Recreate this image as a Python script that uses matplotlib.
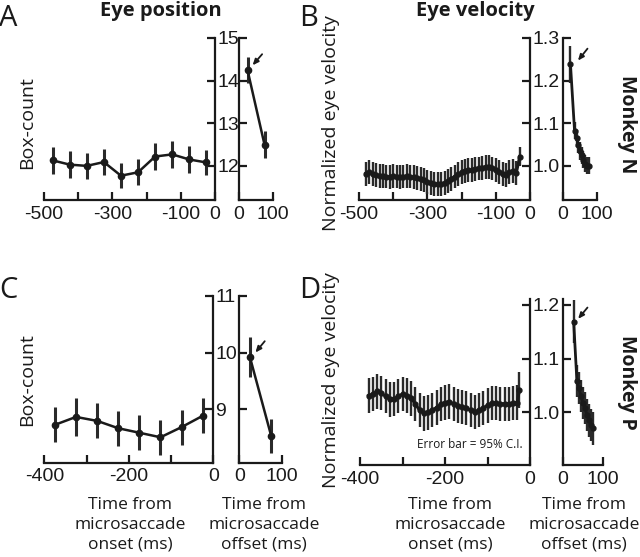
import matplotlib
matplotlib.use("Agg")
import matplotlib.pyplot as plt

# ---------------- data ----------------
# Panel A (Monkey N, eye position, box-count)
a_pre_t = [-475, -425, -375, -325, -275, -225, -175, -125, -75, -25]
a_pre_v = [12.13, 12.03, 12.00, 12.09, 11.77, 11.85, 12.22, 12.27, 12.15, 12.08]
a_pre_e = [0.31, 0.31, 0.31, 0.30, 0.30, 0.30, 0.31, 0.31, 0.31, 0.30]
a_post_t = [25, 75]
a_post_v = [14.25, 12.50]
a_post_e = [0.31, 0.31]

# Panel B (Monkey N, normalized eye velocity)
b_pre_t = [-480, -470, -460, -450, -440, -430, -420, -410, -400, -390,
           -380, -370, -360, -350, -340, -330, -320, -310, -300, -290,
           -280, -270, -260, -250, -240, -230, -220, -210, -200, -190,
           -180, -170, -160, -150, -140, -130, -120, -110, -100, -90,
           -80, -70, -60, -50, -40, -30]
b_pre_v = [0.982, 0.985, 0.980, 0.978, 0.976, 0.977, 0.975, 0.974, 0.976, 0.975,
           0.974, 0.975, 0.976, 0.975, 0.973, 0.972, 0.970, 0.967, 0.963, 0.960,
           0.958, 0.957, 0.958, 0.960, 0.964, 0.970, 0.975, 0.980, 0.985, 0.988,
           0.990, 0.990, 0.992, 0.994, 0.996, 0.998, 0.997, 0.994, 0.990, 0.985,
           0.980, 0.978, 0.986, 0.988, 0.984, 1.022]
b_pre_e = [0.028] * 45 + [0.023]
b_post_t = [22, 34, 40, 45, 50, 55, 60, 65, 70, 75]
b_post_v = [1.238, 1.082, 1.065, 1.050, 1.035, 1.025, 1.015, 1.005, 1.000, 1.000]
b_post_e = [0.043, 0.020, 0.020, 0.020, 0.020, 0.020, 0.020, 0.020, 0.020, 0.020]

# Panel C (Monkey P, eye position, box-count)
c_pre_t = [-375, -325, -275, -225, -175, -125, -75, -25]
c_pre_v = [8.72, 8.86, 8.79, 8.66, 8.58, 8.50, 8.68, 8.88]
c_pre_e = [0.31, 0.34, 0.31, 0.31, 0.31, 0.31, 0.31, 0.31]
c_post_t = [25, 75]
c_post_v = [9.92, 8.53]
c_post_e = [0.35, 0.30]

# Panel D (Monkey P, normalized eye velocity)
d_pre_t = [-380, -370, -360, -350, -340, -330, -320, -310, -300, -290,
           -280, -270, -260, -250, -240, -230, -220, -210, -200, -190,
           -180, -170, -160, -150, -140, -130, -120, -110, -100, -90,
           -80, -70, -60, -50, -40, -30, -25]
d_pre_v = [1.031, 1.034, 1.039, 1.036, 1.030, 1.024, 1.025, 1.030, 1.034, 1.031,
           1.026, 1.016, 1.004, 0.998, 1.000, 1.004, 1.009, 1.015, 1.018, 1.020,
           1.016, 1.012, 1.010, 1.008, 1.004, 1.001, 1.004, 1.008, 1.013, 1.017,
           1.017, 1.016, 1.016, 1.016, 1.017, 1.018, 1.042]
d_pre_e = [0.032] * 36 + [0.034]
d_post_t = [27, 35, 40, 45, 50, 55, 60, 65, 70, 75]
d_post_v = [1.169, 1.058, 1.045, 1.030, 1.018, 1.008, 0.995, 0.985, 0.976, 0.970]
d_post_e = [0.040, 0.030, 0.030, 0.030, 0.030, 0.030, 0.030, 0.030, 0.030, 0.030]

# ---------------- style ----------------
TICKFONT = "Liberation Sans"
LABFONT = "Open Sans"
INK = "#1a1a1a"
W, H = 640, 557

fig = plt.figure(figsize=(W / 100, H / 100), dpi=100)


def box(x0, x1, ytop, ybot):
    return [x0 / W, 1 - ybot / H, (x1 - x0) / W, (ybot - ytop) / H]


def style_left(ax, xlim, xticks, xlabels, ylim, yticks, ylabels):
    ax.set_xlim(*xlim)
    ax.set_ylim(*ylim)
    for s in ("left", "top"):
        ax.spines[s].set_visible(False)
    for s in ("right", "bottom"):
        ax.spines[s].set_linewidth(1.6)
        ax.spines[s].set_color(INK)
    ax.yaxis.tick_right()
    ax.set_xticks(xticks)
    ax.set_xticklabels(xlabels)
    ax.set_yticks(yticks)
    ax.set_yticklabels(ylabels)
    ax.tick_params(direction="in", length=6, width=1.6, color=INK,
                   labelsize=14, pad=1.5, labelcolor=INK)
    ax.tick_params(axis="x", pad=4)
    for lab in ax.get_xticklabels() + ax.get_yticklabels():
        lab.set_family(TICKFONT)
    ax.patch.set_alpha(0)


def style_right(ax, xlim, ylim, yticks):
    ax.set_xlim(*xlim)
    ax.set_ylim(*ylim)
    for s in ("right", "top"):
        ax.spines[s].set_visible(False)
    for s in ("left", "bottom"):
        ax.spines[s].set_linewidth(1.6)
        ax.spines[s].set_color(INK)
    ax.set_xticks([0, 100])
    ax.set_xticklabels(["0", "100"])
    ax.set_yticks(yticks)
    ax.set_yticklabels([])
    ax.tick_params(direction="in", length=6, width=1.6, color=INK,
                   labelsize=14, pad=1.5, labelcolor=INK)
    ax.tick_params(axis="x", pad=4)
    for lab in ax.get_xticklabels():
        lab.set_family(TICKFONT)
    ax.patch.set_alpha(0)


def plot_series(ax, t, v, e, ms=4.5, elw=2.2, lw=1.8):
    ax.errorbar(t, v, yerr=e, color=INK, ecolor="#2a2a2a", elinewidth=elw,
                capsize=0, lw=lw, marker="o", ms=ms, mfc=INK, mec=INK,
                clip_on=False)


def arrow(ax, xy_text, xy_head):
    ax.annotate("", xy=xy_head, xytext=xy_text,
                arrowprops=dict(arrowstyle="-|>,head_length=0.35,head_width=0.15",
                                color=INK, lw=1.3, shrinkA=0, shrinkB=0),
                annotation_clip=False)


# ---- Panel A ----
axA = fig.add_axes(box(44, 215, 38, 200))
axA2 = fig.add_axes(box(239, 273, 38, 200))
style_left(axA, (-500, 0), [-500, -400, -300, -200, -100, 0],
           ["-500", "", "-300", "", "-100", "0"], (11.2, 15),
           [12, 13, 14, 15], ["12", "13", "14", "15"])
style_right(axA2, (0, 100), (11.2, 15), [12, 13, 14, 15])
plot_series(axA, a_pre_t, a_pre_v, a_pre_e)
plot_series(axA2, a_post_t, a_post_v, a_post_e)
arrow(axA2, (68, 14.62), (40, 14.36))

# ---- Panel B ----
axB = fig.add_axes(box(359, 530, 38, 200))
axB2 = fig.add_axes(box(563, 597, 38, 200))
style_left(axB, (-500, 0), [-500, -400, -300, -200, -100, 0],
           ["-500", "", "-300", "", "-100", "0"], (0.92, 1.3),
           [1.0, 1.1, 1.2, 1.3], ["1.0", "1.1", "1.2", "1.3"])
style_right(axB2, (0, 100), (0.92, 1.3), [1.0, 1.1, 1.2, 1.3])
plot_series(axB, b_pre_t, b_pre_v, b_pre_e, ms=3.5, elw=1.7, lw=2.2)
plot_series(axB2, b_post_t, b_post_v, b_post_e, ms=3.5, elw=1.7, lw=2.0)
arrow(axB2, (72, 1.275), (44, 1.247))

# ---- Panel C ----
axC = fig.add_axes(box(44.3, 213.3, 296, 462.7))
axC2 = fig.add_axes(box(239.3, 281.7, 296, 462.7))
style_left(axC, (-400, 0), [-400, -300, -200, -100, 0],
           ["-400", "", "-200", "", "0"], (8.05, 11),
           [9, 10, 11], ["9", "10", "11"])
style_right(axC2, (0, 100), (8.05, 11), [9, 10, 11])
plot_series(axC, c_pre_t, c_pre_v, c_pre_e)
plot_series(axC2, c_post_t, c_post_v, c_post_e)
arrow(axC2, (60, 10.2), (38, 10.0))

# ---- Panel D ----
axD = fig.add_axes(box(360, 530, 299.5, 465))
axD2 = fig.add_axes(box(562.7, 603.3, 299.5, 465))
style_left(axD, (-400, 0), [-400, -300, -200, -100, 0],
           ["-400", "", "-200", "", "0"], (0.902, 1.21),
           [1.0, 1.1, 1.2], ["1.0", "1.1", "1.2"])
style_right(axD2, (0, 100), (0.902, 1.21), [1.0, 1.1, 1.2])
plot_series(axD, d_pre_t, d_pre_v, d_pre_e, ms=3.5, elw=1.7, lw=2.2)
plot_series(axD2, d_post_t, d_post_v, d_post_e, ms=3.5, elw=1.7, lw=2.0)
arrow(axD2, (61, 1.195), (38, 1.174))

# ---------------- texts ----------------
def ftext(x, y, s, **kw):
    fig.text(x / W, 1 - y / H, s, **kw)

for letter, x, y in (("A", -1, 18), ("B", 299, 18), ("C", -1, 291), ("D", 299, 291)):
    ftext(x, y, letter, family=LABFONT, fontsize=21, ha="left", va="center",
          color=INK)

ftext(161, 11, "Eye position", family=LABFONT, fontsize=14.5, weight="bold",
      ha="center", va="center", color=INK)
ftext(475, 11, "Eye velocity", family=LABFONT, fontsize=14.5, weight="bold",
      ha="center", va="center", color=INK)

ftext(627, 124, "Monkey N", family=LABFONT, fontsize=14, weight="bold",
      rotation=-90, ha="center", va="center", color=INK)
ftext(627, 382, "Monkey P", family=LABFONT, fontsize=14, weight="bold",
      rotation=-90, ha="center", va="center", color=INK)

ftext(27, 123, "Box-count", family=LABFONT, fontsize=14, rotation=90,
      ha="center", va="center", color=INK)
ftext(27, 380, "Box-count", family=LABFONT, fontsize=14, rotation=90,
      ha="center", va="center", color=INK)
ftext(331, 123, "Normalized eye velocity", family=LABFONT, fontsize=14,
      rotation=90, ha="center", va="center", color=INK)
ftext(331, 380, "Normalized eye velocity", family=LABFONT, fontsize=14,
      rotation=90, ha="center", va="center", color=INK)

for cx, word in ((130, "onset"), (264, "offset"), (450, "onset"), (584, "offset")):
    ftext(cx, 525, "Time from\nmicrosaccade\n%s (ms)" % word, family=LABFONT,
          fontsize=12.5, ha="center", va="center", linespacing=1.3, color=INK)

ftext(470, 444, "Error bar = 95% C.I.", family=LABFONT, fontsize=8.5,
      ha="center", va="center", color=INK)

fig.savefig("out.png", dpi=100)
